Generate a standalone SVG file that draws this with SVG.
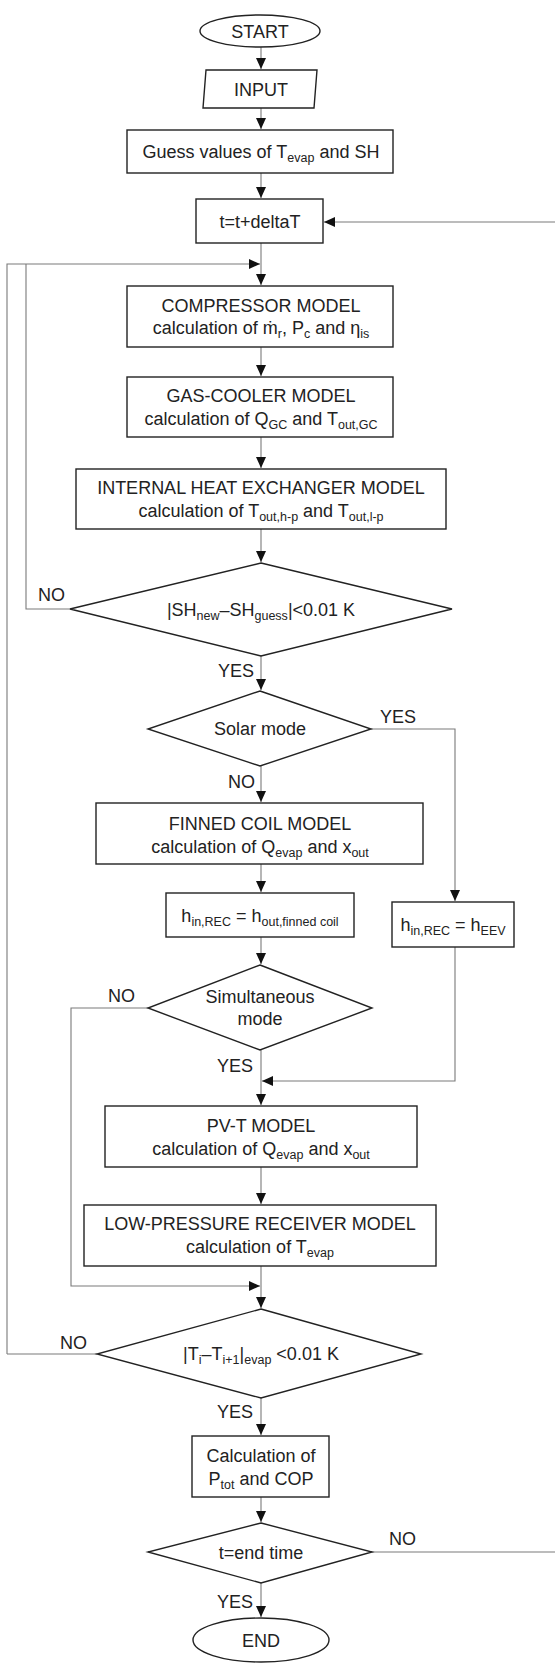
<svg xmlns="http://www.w3.org/2000/svg" width="555" height="1663" viewBox="0 0 555 1663">
<style>
.n{fill:#fff;stroke:#222;stroke-width:1.4}
.t{font-family:"Liberation Sans",Arial,sans-serif;font-size:18px;fill:#222;text-anchor:middle}
.l{font-family:"Liberation Sans",Arial,sans-serif;font-size:18px;fill:#222}
.s{font-size:12.5px}
.c{fill:none;stroke:#7a7a7a;stroke-width:1.1}
</style>
<defs>
<marker id="a" markerUnits="userSpaceOnUse" markerWidth="12" markerHeight="10" refX="11" refY="5" orient="auto">
<path d="M0,0 L11,5 L0,10 Z" fill="#111"/>
</marker>
</defs>
<g id="connectors">
<path class="c" d="M261,47 V69" marker-end="url(#a)"/>
<path class="c" d="M261,108 V129" marker-end="url(#a)"/>
<path class="c" d="M261,173 V198" marker-end="url(#a)"/>
<path class="c" d="M261,243 V285" marker-end="url(#a)"/>
<path class="c" d="M7,1354 V264 H260" marker-end="url(#a)"/>
<path class="c" d="M97,1354 H7"/>
<path class="c" d="M70,609 H26 V264"/>
<path class="c" d="M261,347 V376" marker-end="url(#a)"/>
<path class="c" d="M261,437 V468" marker-end="url(#a)"/>
<path class="c" d="M261,529 V562" marker-end="url(#a)"/>
<path class="c" d="M261,656 V690" marker-end="url(#a)"/>
<path class="c" d="M371,729 H455 V901" marker-end="url(#a)"/>
<path class="c" d="M261,766 V802" marker-end="url(#a)"/>
<path class="c" d="M261,864 V892" marker-end="url(#a)"/>
<path class="c" d="M261,937 V964" marker-end="url(#a)"/>
<path class="c" d="M455,947 V1081 H262" marker-end="url(#a)"/>
<path class="c" d="M261,1050 V1105" marker-end="url(#a)"/>
<path class="c" d="M148,1008 H71 V1286 H260" marker-end="url(#a)"/>
<path class="c" d="M261,1167 V1204" marker-end="url(#a)"/>
<path class="c" d="M261,1266 V1308" marker-end="url(#a)"/>
<path class="c" d="M261,1398 V1435" marker-end="url(#a)"/>
<path class="c" d="M261,1497 V1522" marker-end="url(#a)"/>
<path class="c" d="M372,1552 H557 V222 H324" marker-end="url(#a)"/>
<path class="c" d="M261,1583 V1617" marker-end="url(#a)"/>
<text class="l" x="38" y="601">NO</text>
<text class="l" x="218" y="677">YES</text>
<text class="l" x="380" y="723">YES</text>
<text class="l" x="228" y="788">NO</text>
<text class="l" x="108" y="1002">NO</text>
<text class="l" x="217" y="1072">YES</text>
<text class="l" x="60" y="1349">NO</text>
<text class="l" x="217" y="1418">YES</text>
<text class="l" x="389" y="1545">NO</text>
<text class="l" x="217" y="1608">YES</text>
</g>
<g id="start">
<ellipse class="n" cx="260" cy="31" rx="60" ry="16"/>
<text class="t" x="260" y="37.5">START</text>
</g>
<g id="input">
<polygon class="n" points="206,70 317,70 314,108 203,108"/>
<text class="t" x="261" y="95.5">INPUT</text>
</g>
<g id="guess">
<rect class="n" x="127" y="130" width="266" height="43"/>
<text class="t" x="261" y="158">Guess values of T<tspan class="s" dy="4">evap</tspan><tspan dy="-4"> and SH</tspan></text>
</g>
<g id="time-step">
<rect class="n" x="196" y="199" width="127" height="44"/>
<text class="t" x="260" y="227.5">t=t+deltaT</text>
</g>
<g id="compressor">
<rect class="n" x="127" y="286" width="266" height="61"/>
<text class="t" x="261" y="312">COMPRESSOR MODEL</text>
<text class="t" x="261" y="334">calculation of ṁ<tspan class="s" dy="4">r</tspan><tspan dy="-4">, P</tspan><tspan class="s" dy="4">c</tspan><tspan dy="-4"> and η</tspan><tspan class="s" dy="4">is</tspan></text>
</g>
<g id="gas-cooler">
<rect class="n" x="127" y="377" width="266" height="60"/>
<text class="t" x="261" y="402">GAS-COOLER MODEL</text>
<text class="t" x="261" y="425">calculation of Q<tspan class="s" dy="4">GC</tspan><tspan dy="-4"> and T</tspan><tspan class="s" dy="4">out,GC</tspan></text>
</g>
<g id="ihx">
<rect class="n" x="76" y="469" width="370" height="60"/>
<text class="t" x="261" y="494">INTERNAL HEAT EXCHANGER MODEL</text>
<text class="t" x="261" y="517">calculation of T<tspan class="s" dy="4">out,h-p</tspan><tspan dy="-4"> and T</tspan><tspan class="s" dy="4">out,l-p</tspan></text>
</g>
<g id="sh-check">
<polygon class="n" points="261,563 452,609 261,656 70,609"/>
<text class="t" x="261" y="616">|SH<tspan class="s" dy="4">new</tspan><tspan dy="-4">–SH</tspan><tspan class="s" dy="4">guess</tspan><tspan dy="-4">|&lt;0.01 K</tspan></text>
</g>
<g id="solar-mode">
<polygon class="n" points="260,691 371,729 260,766 148,729"/>
<text class="t" x="260" y="735">Solar mode</text>
</g>
<g id="finned-coil">
<rect class="n" x="96" y="803" width="327" height="61"/>
<text class="t" x="260" y="830">FINNED COIL MODEL</text>
<text class="t" x="260" y="853">calculation of Q<tspan class="s" dy="4">evap</tspan><tspan dy="-4"> and x</tspan><tspan class="s" dy="4">out</tspan></text>
</g>
<g id="h-finned">
<rect class="n" x="166" y="893" width="188" height="44"/>
<text class="t" x="260" y="922">h<tspan class="s" dy="4">in,REC</tspan><tspan dy="-4"> = h</tspan><tspan class="s" dy="4">out,finned coil</tspan></text>
</g>
<g id="h-eev">
<rect class="n" x="392" y="902" width="122" height="45"/>
<text class="t" x="453" y="931">h<tspan class="s" dy="4">in,REC</tspan><tspan dy="-4"> = h</tspan><tspan class="s" dy="4">EEV</tspan></text>
</g>
<g id="simultaneous">
<polygon class="n" points="260,965 372,1008 260,1050 148,1008"/>
<text class="t" x="260" y="1003">Simultaneous</text>
<text class="t" x="260" y="1025">mode</text>
</g>
<g id="pvt">
<rect class="n" x="105" y="1106" width="312" height="61"/>
<text class="t" x="261" y="1132">PV-T MODEL</text>
<text class="t" x="261" y="1155">calculation of Q<tspan class="s" dy="4">evap</tspan><tspan dy="-4"> and x</tspan><tspan class="s" dy="4">out</tspan></text>
</g>
<g id="receiver">
<rect class="n" x="84" y="1205" width="352" height="61"/>
<text class="t" x="260" y="1230">LOW-PRESSURE RECEIVER MODEL</text>
<text class="t" x="260" y="1253">calculation of T<tspan class="s" dy="4">evap</tspan></text>
</g>
<g id="t-check">
<polygon class="n" points="261,1309 421,1354 261,1398 97,1354"/>
<text class="t" x="261" y="1360">|T<tspan class="s" dy="4">i</tspan><tspan dy="-4">–T</tspan><tspan class="s" dy="4">i+1</tspan><tspan dy="-4">|</tspan><tspan class="s" dy="4">evap</tspan><tspan dy="-4"> &lt;0.01 K</tspan></text>
</g>
<g id="cop">
<rect class="n" x="192" y="1436" width="137" height="61"/>
<text class="t" x="261" y="1462">Calculation of</text>
<text class="t" x="261" y="1485">P<tspan class="s" dy="4">tot</tspan><tspan dy="-4"> and COP</tspan></text>
</g>
<g id="end-time">
<polygon class="n" points="261,1523 372,1552 261,1583 148,1552"/>
<text class="t" x="261" y="1559">t=end time</text>
</g>
<g id="end">
<ellipse class="n" cx="261" cy="1640" rx="68" ry="22"/>
<text class="t" x="261" y="1647">END</text>
</g>
</svg>
